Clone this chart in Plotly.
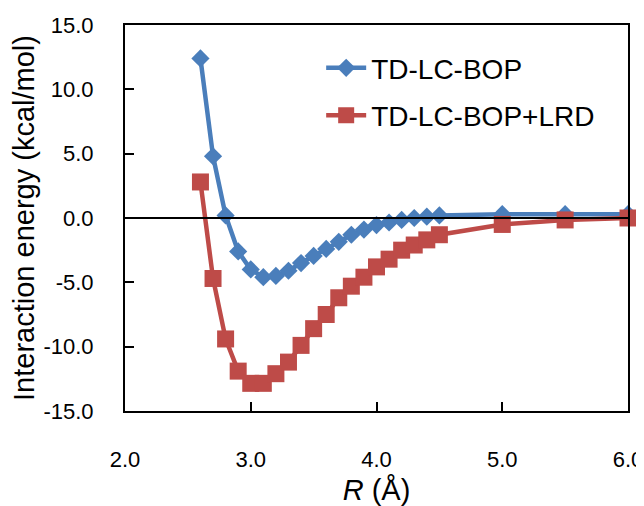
import plotly.graph_objects as go

R_values = [2.6, 2.7, 2.8, 2.9, 3.0, 3.1, 3.2, 3.3, 3.4, 3.5, 3.6, 3.7,
            3.8, 3.9, 4.0, 4.1, 4.2, 4.3, 4.4, 4.5, 5.0, 5.5, 6.0]
E_td_lc_bop = [12.4, 4.8, 0.2, -2.6, -4.0, -4.6, -4.5, -4.1, -3.5, -2.95, -2.4, -1.85,
               -1.3, -0.9, -0.55, -0.35, -0.15, 0.0, 0.1, 0.2, 0.3, 0.3, 0.3]
E_td_lc_bop_lrd = [2.8, -4.7, -9.4, -11.9, -12.85, -12.85, -12.1, -11.2, -9.9, -8.6, -7.5, -6.2,
                   -5.3, -4.6, -3.8, -3.2, -2.5, -2.1, -1.7, -1.3, -0.5, -0.15, 0.0]

x_tickvals = [2.0, 3.0, 4.0, 5.0, 6.0]
x_ticktext = ["2.0", "3.0", "4.0", "5.0", "6.0"]
y_tickvals = [15, 10, 5, 0, -5, -10, -15]
y_ticktext = ["15.0", "10.0", "5.0", "0.0", "-5.0", "-10.0", "-15.0"]

BLUE = "#4A7EBB"
RED = "#BE4B48"
FONT = "Liberation Sans, Arial, sans-serif"

fig = go.Figure()
fig.add_trace(go.Scatter(
    x=R_values, y=E_td_lc_bop, name="TD-LC-BOP", mode="lines+markers",
    line=dict(color=BLUE, width=4.5),
    marker=dict(symbol="diamond", size=14, color=BLUE),
    cliponaxis=False, legendgroup="a"))
fig.add_trace(go.Scatter(
    x=R_values, y=E_td_lc_bop_lrd, name="TD-LC-BOP+LRD", mode="lines+markers",
    line=dict(color=RED, width=4.5),
    marker=dict(symbol="square", size=17, color=RED),
    cliponaxis=False, legendgroup="b"))

fig.add_shape(type="line", xref="paper", x0=0, x1=1, yref="y", y0=0, y1=0,
              line=dict(color="black", width=2), layer="above")

fig.update_layout(
    width=636, height=498,
    margin=dict(l=117, r=16, t=17, b=95, autoexpand=False),
    paper_bgcolor="white", plot_bgcolor="white",
    font=dict(family=FONT, color="black", size=22),
    showlegend=True,
    legend=dict(x=0.39, y=0.953, xanchor="left", yanchor="top",
                font=dict(size=28, family=FONT), bgcolor="rgba(0,0,0,0)",
                tracegroupgap=8, itemwidth=40),
    xaxis=dict(range=[2.0, 6.0], tickvals=x_tickvals, ticktext=x_ticktext,
               ticks="inside", ticklen=9, tickwidth=2, tickcolor="black",
               showline=True, linecolor="black", linewidth=2, mirror=True,
               showgrid=False, zeroline=False, ticklabelstandoff=28,
               tickfont=dict(size=22),
               title=dict(text="<i>R</i> (Å)", font=dict(size=29), standoff=15),
               automargin=False),
    yaxis=dict(range=[-15, 15], tickvals=y_tickvals, ticktext=y_ticktext,
               ticks="inside", ticklen=9, tickwidth=2, tickcolor="black",
               showline=True, linecolor="black", linewidth=2, mirror=True,
               showgrid=False, zeroline=False, ticklabelstandoff=25,
               tickfont=dict(size=22),
               title=dict(text="Interaction energy (kcal/mol)", font=dict(size=29), standoff=3),
               automargin=False),
)

fig.write_html("out.html")
